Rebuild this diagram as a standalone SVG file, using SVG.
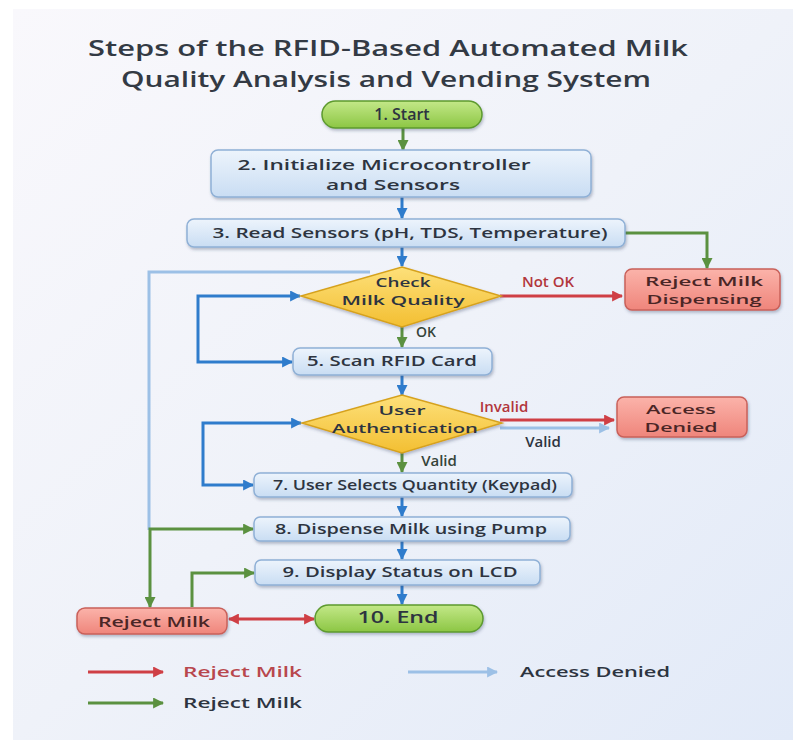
<svg xmlns="http://www.w3.org/2000/svg" width="793" height="740" viewBox="0 0 793 740">
<defs>
<linearGradient id="bg" x1="0" y1="0" x2="1" y2="1">
<stop offset="0" stop-color="#f9f8fc"/>
<stop offset="0.5" stop-color="#eff2f9"/>
<stop offset="1" stop-color="#e2eaf8"/>
</linearGradient>
<linearGradient id="gBlue" x1="0" y1="0" x2="0" y2="1">
<stop offset="0" stop-color="#edf4fc"/>
<stop offset="1" stop-color="#c9ddf3"/>
</linearGradient>
<linearGradient id="gGreen" x1="0" y1="0" x2="0" y2="1">
<stop offset="0" stop-color="#c3e888"/>
<stop offset="1" stop-color="#8cc644"/>
</linearGradient>
<linearGradient id="gYellow" x1="0" y1="0" x2="0" y2="1">
<stop offset="0" stop-color="#fde07a"/>
<stop offset="1" stop-color="#f3bf32"/>
</linearGradient>
<linearGradient id="gRed" x1="0" y1="0" x2="0" y2="1">
<stop offset="0" stop-color="#fbb3aa"/>
<stop offset="1" stop-color="#ef857b"/>
</linearGradient>
<filter id="sh" x="-10%" y="-20%" width="120%" height="150%">
<feDropShadow dx="1" dy="2" stdDeviation="1.5" flood-color="#3a4a6a" flood-opacity="0.35"/>
</filter>
<marker id="aB" viewBox="0 0 10 10" refX="9" refY="5" markerWidth="11" markerHeight="11" markerUnits="userSpaceOnUse" orient="auto-start-reverse"><path d="M0,0 L10,5 L0,10 z" fill="#2f7ccc"/></marker>
<marker id="aG" viewBox="0 0 10 10" refX="9" refY="5" markerWidth="11" markerHeight="11" markerUnits="userSpaceOnUse" orient="auto-start-reverse"><path d="M0,0 L10,5 L0,10 z" fill="#5b9140"/></marker>
<marker id="aR" viewBox="0 0 10 10" refX="9" refY="5" markerWidth="11" markerHeight="11" markerUnits="userSpaceOnUse" orient="auto-start-reverse"><path d="M0,0 L10,5 L0,10 z" fill="#cf3f45"/></marker>
<marker id="aL" viewBox="0 0 10 10" refX="9" refY="5" markerWidth="11" markerHeight="11" markerUnits="userSpaceOnUse" orient="auto-start-reverse"><path d="M0,0 L10,5 L0,10 z" fill="#9cc0e6"/></marker>
</defs>
<style>
text{font-family:"Open Sans","Noto Sans","DejaVu Sans",sans-serif;font-weight:600;fill:#2d3440;text-anchor:middle}
.title{font-size:22px;fill:#333a44}
.t{font-size:15px}
.t2{font-size:13px}
.ts{font-size:14px}
.tr{fill:#4a2626;font-size:15px}
.tr2{fill:#4a2626;font-size:13px}
.lr{fill:#b2363c;font-size:15px}
.lg{fill:#35443a;font-size:15px}
.leg{font-size:15px;text-anchor:start}
.box{fill:url(#gBlue);stroke:#8fb0d6;stroke-width:1.5;filter:url(#sh)}
.pill{fill:url(#gGreen);stroke:#5d9a2e;stroke-width:1.5;filter:url(#sh)}
.dia{fill:url(#gYellow);stroke:#d6a21e;stroke-width:1.5;filter:url(#sh)}
.rej{fill:url(#gRed);stroke:#c9615a;stroke-width:1.5;filter:url(#sh)}
.cb{fill:none;stroke:#2f7ccc;stroke-width:3}
.cg{fill:none;stroke:#5b9140;stroke-width:3}
.cr{fill:none;stroke:#cf3f45;stroke-width:3}
.cl{fill:none;stroke:#9cc0e6;stroke-width:3}
</style>
<rect x="13" y="9" width="780" height="731" fill="url(#bg)"/>
<g id="title">
<text class="title" x="388" y="56" textLength="600" lengthAdjust="spacingAndGlyphs">Steps of the RFID-Based Automated Milk</text>
<text class="title" x="386" y="87" textLength="530" lengthAdjust="spacingAndGlyphs">Quality Analysis and Vending System</text>
</g>
<g id="connectors">
<path class="cg" d="M403,128 L403,150" marker-end="url(#aG)"/>
<path class="cb" d="M402,197 L402,218" marker-end="url(#aB)"/>
<path class="cb" d="M402,247 L402,266" marker-end="url(#aB)"/>
<path class="cg" d="M625,233 L707,233 L707,268" marker-end="url(#aG)"/>
<path class="cl" d="M370,272 L149,272 L149,530"/>
<path class="cr" d="M500,296 L622,296" marker-end="url(#aR)"/>
<path class="cb" d="M300,296 L198,296 L198,362 L292,362" marker-start="url(#aB)" marker-end="url(#aB)"/>
<path class="cg" d="M402,327 L402,347" marker-end="url(#aG)"/>
<path class="cb" d="M402,375 L402,395" marker-end="url(#aB)"/>
<path class="cr" d="M500,420 L614,420" marker-end="url(#aR)"/>
<path class="cl" d="M500,428 L609,428" marker-end="url(#aL)"/>
<path class="cb" d="M301,423 L203,423 L203,485 L253,485" marker-start="url(#aB)" marker-end="url(#aB)"/>
<path class="cg" d="M402,453 L402,472" marker-end="url(#aG)"/>
<path class="cb" d="M402,497 L402,516" marker-end="url(#aB)"/>
<path class="cb" d="M402,541 L402,559" marker-end="url(#aB)"/>
<path class="cb" d="M402,585 L402,604" marker-end="url(#aB)"/>
<path class="cg" d="M253,529 L150,529 L150,607" marker-start="url(#aG)" marker-end="url(#aG)"/>
<path class="cg" d="M192,607 L192,573 L254,573" marker-end="url(#aG)"/>
<path class="cr" d="M229,619 L314,619" marker-start="url(#aR)" marker-end="url(#aR)"/>
<text class="lr" x="548" y="287">Not OK</text>
<text class="lg" x="426" y="337" style="font-size:14px">OK</text>
<text class="lr" x="504" y="412">Invalid</text>
<text class="t" x="543" y="447">Valid</text>
<text class="lg" x="439" y="466">Valid</text>
</g>
<g id="n1"><rect class="pill" x="322" y="101" width="160" height="27" rx="13.5"/><text x="402" y="120" style="font-size:16px">1. Start</text></g>
<g id="n2"><rect class="box" x="211" y="150" width="380" height="47" rx="7"/><text class="t" x="384" y="170" textLength="293" lengthAdjust="spacingAndGlyphs">2. Initialize Microcontroller</text><text class="t" x="393" y="190" textLength="134" lengthAdjust="spacingAndGlyphs">and Sensors</text></g>
<g id="n3"><rect class="box" x="187" y="219" width="438" height="28" rx="7"/><text class="t" x="410" y="238" textLength="395" lengthAdjust="spacingAndGlyphs">3. Read Sensors (pH, TDS, Temperature)</text></g>
<g id="n4"><path class="dia" d="M402,267 L501,296 L402,327 L301,296 z"/><text class="t2" x="403" y="287" textLength="55" lengthAdjust="spacingAndGlyphs">Check</text><text class="t2" x="403" y="305" textLength="123" lengthAdjust="spacingAndGlyphs">Milk Quality</text></g>
<g id="n4r"><rect class="rej" x="625" y="269" width="155" height="41" rx="7"/><text class="tr2" x="704" y="286" textLength="118" lengthAdjust="spacingAndGlyphs">Reject Milk</text><text class="tr2" x="704" y="304" textLength="115" lengthAdjust="spacingAndGlyphs">Dispensing</text></g>
<g id="n5"><rect class="box" x="293" y="348" width="199" height="27" rx="7"/><text class="t" x="392" y="366" textLength="170" lengthAdjust="spacingAndGlyphs">5. Scan RFID Card</text></g>
<g id="n6"><path class="dia" d="M402,395 L502,423 L402,453 L302,423 z"/><text class="t2" x="402" y="415" textLength="47" lengthAdjust="spacingAndGlyphs">User</text><text class="t2" x="405" y="433" textLength="146" lengthAdjust="spacingAndGlyphs">Authentication</text></g>
<g id="n6r"><rect class="rej" x="617" y="397" width="130" height="40" rx="7"/><text class="tr2" x="681" y="414" textLength="70" lengthAdjust="spacingAndGlyphs">Access</text><text class="tr2" x="681" y="432" textLength="73" lengthAdjust="spacingAndGlyphs">Denied</text></g>
<g id="n7"><rect class="box" x="254" y="473" width="318" height="24" rx="6"/><text class="ts" x="415" y="490" textLength="284" lengthAdjust="spacingAndGlyphs">7. User Selects Quantity (Keypad)</text></g>
<g id="n8"><rect class="box" x="254" y="517" width="316" height="24" rx="6"/><text class="t" x="411" y="534" textLength="272" lengthAdjust="spacingAndGlyphs">8. Dispense Milk using Pump</text></g>
<g id="n9"><rect class="box" x="255" y="560" width="285" height="25" rx="6"/><text class="t" x="400" y="577" textLength="235" lengthAdjust="spacingAndGlyphs">9. Display Status on LCD</text></g>
<g id="n10"><rect class="pill" x="315" y="605" width="168" height="27" rx="13.5"/><text x="398" y="623" style="font-size:16px" textLength="81" lengthAdjust="spacingAndGlyphs">10. End</text></g>
<g id="nrej"><rect class="rej" x="77" y="608" width="150" height="26" rx="8"/><text class="tr" x="154" y="627" textLength="112" lengthAdjust="spacingAndGlyphs">Reject Milk</text></g>
<g id="legend">
<path class="cr" d="M88,672 L163,672" marker-end="url(#aR)"/>
<text class="leg" x="183" y="677" style="fill:#b8474d" textLength="119" lengthAdjust="spacingAndGlyphs">Reject Milk</text>
<path class="cl" d="M408,672 L497,672" marker-end="url(#aL)"/>
<text class="leg" x="520" y="677" textLength="150" lengthAdjust="spacingAndGlyphs">Access Denied</text>
<path class="cg" d="M88,703 L163,703" marker-end="url(#aG)"/>
<text class="leg" x="183" y="708" textLength="119" lengthAdjust="spacingAndGlyphs">Reject Milk</text>
</g>
</svg>
